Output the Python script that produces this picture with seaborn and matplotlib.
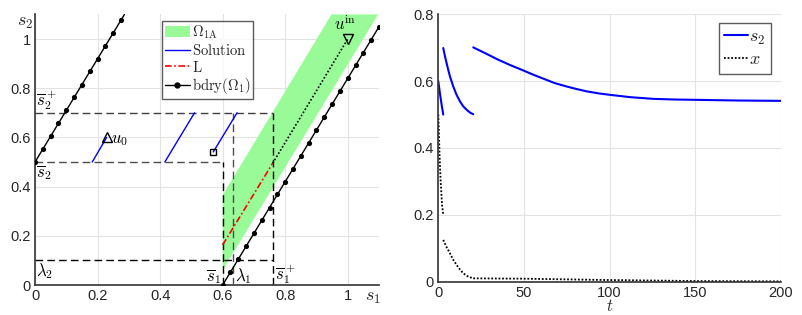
import numpy as np
import pandas as pd
import matplotlib
matplotlib.use("Agg")
import matplotlib.pyplot as plt
from matplotlib.lines import Line2D
from matplotlib.patches import Patch
import seaborn as sns

# --- left panel: phase plane (s1, s2) ---
bdry_left_s1 = [0.0, 0.025, 0.05, 0.075, 0.1, 0.125, 0.15, 0.175, 0.2, 0.225, 0.25, 0.275]
bdry_left_s2 = [0.5, 0.553, 0.605, 0.658, 0.71, 0.763, 0.815, 0.868, 0.92, 0.973, 1.025, 1.078]
bdry_left_end = (0.286, 1.1)
bdry_right_s1 = [0.6, 0.625, 0.65, 0.675, 0.7, 0.725, 0.75, 0.775, 0.8, 0.825, 0.85,
                 0.875, 0.9, 0.925, 0.95, 0.975, 1.0, 1.025, 1.05, 1.075, 1.1]
bdry_right_s2 = [0.0, 0.053, 0.105, 0.158, 0.21, 0.263, 0.315, 0.368, 0.42, 0.473, 0.525,
                 0.578, 0.63, 0.683, 0.735, 0.788, 0.84, 0.893, 0.945, 0.998, 1.05]

omega_s1 = [0.6, 0.6, 0.948, 1.097]
omega_s2 = [0.06, 0.365, 1.1, 1.1]

sol_segments = [
    ([0.229, 0.183], [0.6, 0.5]),
    ([0.51, 0.415], [0.7, 0.5]),
    ([0.646, 0.57], [0.7, 0.541]),
]
u0 = (0.229, 0.6)
u_end = (0.57, 0.541)
u_in = (1.0, 1.0)
L_s1 = [0.6, 0.76]
L_s2 = [0.163, 0.495]
dotted_s1 = [0.76, 1.0]
dotted_s2 = [0.495, 1.0]

s1_bar, s1_plus, lam1 = 0.6, 0.76, 0.632
s2_bar, s2_plus, lam2 = 0.5, 0.7, 0.1

# --- right panel: time series ---
s2_t = [[0, 1, 2, 2.9],
        [2.9, 4, 5.8, 7, 8.75, 10.5, 12.7, 14.5, 16.6, 18.5, 20.4],
        [20.4, 28, 35, 42, 49.6, 56, 62, 68, 74.9, 81, 87, 94, 100.2, 112, 125.4,
         138, 150.7, 175, 200]]
s2_v = [[0.6, 0.562, 0.528, 0.5],
        [0.699, 0.672, 0.634, 0.611, 0.584, 0.561, 0.539, 0.525, 0.514, 0.506, 0.501],
        [0.701, 0.682, 0.664, 0.648, 0.632, 0.618, 0.606, 0.594, 0.584, 0.576, 0.569,
         0.563, 0.559, 0.552, 0.547, 0.545, 0.544, 0.542, 0.541]]
x_t = [[0, 0.4, 0.8, 1.4, 2.2, 2.9],
       [2.9, 4.8, 6.8, 8.7, 10.7, 12.6, 14.6, 17.5, 20.4],
       [20.4, 50, 100, 150, 200]]
x_v = [[0.5, 0.44, 0.37, 0.3, 0.23, 0.2],
       [0.125, 0.104, 0.085, 0.066, 0.05, 0.037, 0.025, 0.015, 0.01],
       [0.01, 0.009, 0.005, 0.002, 0.001]]

sns.set_style("whitegrid")
plt.rcParams["font.family"] = ["Liberation Sans", "DejaVu Sans"]
plt.rcParams["mathtext.fontset"] = "cm"

fig = plt.figure(figsize=(8.03, 3.15), dpi=100)
ax1 = fig.add_axes([0.0436, 0.0952, 0.4284, 0.859])
ax2 = fig.add_axes([0.5458, 0.1057, 0.4268, 0.849])

grid_kw = dict(color="#e3e3e3", linewidth=0.8)
tick_col = "#262626"
dash = (5.5, 3)
dashdot = (0, (4, 1.5, 1, 1.5))

# left panel
ax1.fill(omega_s1, omega_s2, color="#98fb98", lw=0, zorder=1)
ax1.plot([s1_bar, s1_bar], [0, s2_bar], color="k", lw=1, dashes=dash, zorder=2)
ax1.plot([s1_plus, s1_plus], [0, s2_plus], color="k", lw=1, dashes=dash, zorder=2)
ax1.plot([lam1, lam1], [0, s2_plus], color="0.3", lw=1, dashes=dash, zorder=3)
ax1.plot([0, s1_bar], [s2_bar, s2_bar], color="0.3", lw=1, dashes=dash, zorder=2)
ax1.plot([0, s1_plus], [s2_plus, s2_plus], color="0.25", lw=1, dashes=dash, zorder=2)
ax1.plot([0, s1_plus], [lam2, lam2], color="k", lw=1, dashes=dash, zorder=2)

for xs, ys in sol_segments:
    sns.lineplot(x=xs, y=ys, ax=ax1, color="#0000ff", lw=1, sort=False, zorder=4)
sns.lineplot(x=L_s1, y=L_s2, ax=ax1, color="red", lw=1.2, sort=False, zorder=4,
             linestyle=dashdot)
ax1.plot(dotted_s1, dotted_s2, color="k", lw=1.2, linestyle=(0, (1, 1.2)), zorder=4)

ax1.plot([bdry_left_s1[0], bdry_left_end[0]], [bdry_left_s2[0], bdry_left_end[1]],
         color="k", lw=1, zorder=5)
ax1.plot([bdry_right_s1[0], bdry_right_s1[-1]], [bdry_right_s2[0], bdry_right_s2[-1]],
         color="k", lw=1, zorder=5)
sns.scatterplot(x=bdry_left_s1 + bdry_right_s1, y=bdry_left_s2 + bdry_right_s2, ax=ax1,
                color="k", s=14, linewidth=0, zorder=6)

ax1.plot(*u0, marker="^", ms=7, mfc="none", mec="k", mew=1, zorder=7)
ax1.plot(*u_end, marker="s", ms=5, mfc="none", mec="k", mew=1, zorder=7)
ax1.plot(*u_in, marker="v", ms=7, mfc="none", mec="k", mew=1, zorder=7)

tk = dict(fontsize=12, color="k")
ax1.text(u0[0] + 0.015, u0[1] - 0.012, r"$u_0$", ha="left", va="center", **tk)
ax1.text(u_in[0] - 0.008, u_in[1] + 0.025, r"$u^{\mathrm{in}}$", ha="center", va="bottom", **tk)
ax1.text(0.003, s2_plus + 0.005, r"$\overline{s}_2^+$", ha="left", va="bottom", **tk)
ax1.text(0.003, s2_bar - 0.005, r"$\overline{s}_2$", ha="left", va="top", **tk)
ax1.text(0.003, lam2 - 0.005, r"$\lambda_2$", ha="left", va="top", **tk)
ax1.text(s1_bar - 0.005, -0.005, r"$\overline{s}_1$", ha="right", va="bottom", **tk)
ax1.text(lam1 + 0.008, -0.005, r"$\lambda_1$", ha="left", va="bottom", **tk)
ax1.text(s1_plus + 0.008, -0.005, r"$\overline{s}_1^+$", ha="left", va="bottom", **tk)
ax1.text(-0.006, 1.1, r"$s_2$", ha="right", va="top", fontsize=13, clip_on=False)
ax1.text(1.08, -0.015, r"$s_1$", ha="center", va="top", fontsize=13, clip_on=False)

ax1.set_xlim(0, 1.1)
ax1.set_ylim(0, 1.1)
ax1.set_xticks([0, 0.2, 0.4, 0.6, 0.8, 1])
ax1.set_yticks([0, 0.2, 0.4, 0.6, 0.8, 1])
ax1.set_xticklabels(["0", "0.2", "0.4", "0.6", "0.8", "1"])
ax1.set_yticklabels(["0", "0.2", "0.4", "0.6", "0.8", "1"])

handles1 = [
    Patch(facecolor="#98fb98", edgecolor="none", label=r"$\Omega_{1\mathrm{A}}$"),
    Line2D([], [], color="#0000ff", lw=1, label=r"$\mathrm{Solution}$"),
    Line2D([], [], color="red", lw=1.2, linestyle=dashdot, label=r"$\mathrm{L}$"),
    Line2D([], [], color="k", lw=1, marker="o", ms=3.5, label=r"$\mathrm{bdry}(\Omega_1)$"),
]
leg1 = ax1.legend(handles=handles1, loc="upper left", bbox_to_anchor=(0.369, 0.977),
                  fontsize=10.5, frameon=True, fancybox=False, edgecolor="#333333",
                  borderpad=0.2, labelspacing=0.12, handlelength=1.7, handletextpad=0.15,
                  borderaxespad=0)
leg1.get_frame().set_linewidth(1)
leg1.set_zorder(10)

# right panel
for ts, vs in zip(s2_t, s2_v):
    sns.lineplot(x=ts, y=vs, ax=ax2, color="#0000ff", lw=1.5, sort=False)
for ts, vs in zip(x_t, x_v):
    ax2.plot(ts, vs, color="k", lw=1.3, linestyle=(0, (1, 1)))
ax2.set_xlim(0, 200)
ax2.set_ylim(0, 0.8)
ax2.set_xticks([0, 50, 100, 150, 200])
ax2.set_yticks([0, 0.2, 0.4, 0.6, 0.8])
ax2.set_yticklabels(["0", "0.2", "0.4", "0.6", "0.8"])
ax2.set_xlabel(r"$t$", fontsize=12, labelpad=-1)
handles2 = [
    Line2D([], [], color="#0000ff", lw=1.5, label=r"$s_2$"),
    Line2D([], [], color="k", lw=1.3, linestyle=(0, (1, 1)), label=r"$x$"),
]
leg2 = ax2.legend(handles=handles2, loc="upper right", bbox_to_anchor=(0.971, 0.967),
                  fontsize=13, frameon=True, fancybox=False, edgecolor="#333333",
                  borderpad=0.3, labelspacing=0.25, handlelength=1.3, handletextpad=0.1,
                  borderaxespad=0)
leg2.get_frame().set_linewidth(1)

for ax in (ax1, ax2):
    ax.grid(True, **grid_kw)
    ax.set_axisbelow(True)
    ax.set_facecolor("white")
    for side in ("top", "right"):
        ax.spines[side].set_visible(False)
    for side in ("left", "bottom"):
        ax.spines[side].set_color("#333333")
        ax.spines[side].set_linewidth(1.2)
    ax.tick_params(axis="both", direction="in", length=3, width=0.8, color="#333333",
                   labelsize=10.5, labelcolor=tick_col, pad=3)
    ax.set_ylabel("")

plt.savefig("out.png", dpi=100)
plt.close()
